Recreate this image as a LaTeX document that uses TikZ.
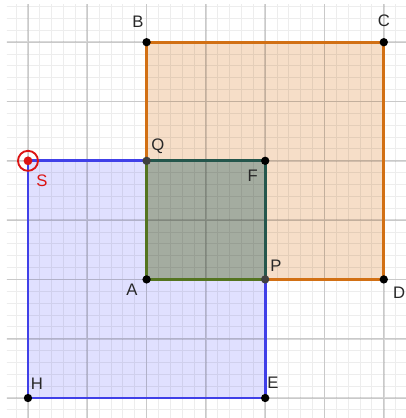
\documentclass[tikz,border=0pt]{standalone}
\usepackage{fontspec}
\setmainfont{Liberation Sans}
\definecolor{orfill}{RGB}{246,222,200}
\definecolor{orline}{RGB}{210,112,20}
\definecolor{blfill}{RGB}{224,224,255}
\definecolor{blline}{RGB}{64,64,232}
\definecolor{grfill}{RGB}{164,172,160}
\definecolor{teal}{RGB}{36,86,76}
\definecolor{olive}{RGB}{84,116,32}
\definecolor{lbl}{RGB}{40,40,40}
\definecolor{sred}{RGB}{220,20,20}
\begin{document}
\begin{tikzpicture}[
  pt/.style={circle,fill=black,inner sep=0pt,minimum size=4pt},
  ipt/.style={circle,fill=black!75,inner sep=0pt,minimum size=4pt},
  lab/.style={text=lbl,font=\fontsize{8}{9.5}\selectfont,inner sep=0pt},
  edge/.style={line width=1.3pt}
]
\useasboundingbox (-0.472,-0.337) rectangle (6.374,6.712);
\fill[white] (-0.472,-0.337) rectangle (6.374,6.712);
% coordinates
\coordinate (H) at (0,0);
\coordinate (E) at (4,0);
\coordinate (S) at (0,4);
\coordinate (F) at (4,4);
\coordinate (Q) at (2,4);
\coordinate (P) at (4,2);
\coordinate (A) at (2,2);
\coordinate (B) at (2,6);
\coordinate (C) at (6,6);
\coordinate (D) at (6,2);
% fills
\fill[orfill] (A) -- (B) -- (C) -- (D) -- cycle;
\fill[blfill] (H) -- (S) -- (F) -- (E) -- cycle;
\fill[grfill] (A) -- (Q) -- (F) -- (P) -- cycle;
% grid
\begin{scope}
\clip (-0.355,-0.337) rectangle (6.374,6.63);
\draw[black,opacity=0.07,line width=0.45pt,step=0.2] (-0.6,-0.6) grid (6.6,6.8);
\draw[black,opacity=0.15,line width=0.8pt,step=1] (-1,-1) grid (7,7);
\end{scope}
% edges
\draw[edge,orline] (Q) -- (B) -- (C) -- (D) -- (P);
\draw[edge,blline] (Q) -- (S) -- (H) -- (E) -- (P);
\draw[edge,teal] (Q) -- (F) -- (P);
\draw[edge,olive] (P) -- (A) -- (Q);
% points
\node[pt] (nB) at (B) {};
\node[pt] (nC) at (C) {};
\node[pt] (nD) at (D) {};
\node[pt] (nA) at (A) {};
\node[pt] (nF) at (F) {};
\node[pt] (nE) at (E) {};
\node[pt] (nH) at (H) {};
\node[ipt] (nQ) at (Q) {};
\node[ipt] (nP) at (P) {};
\draw[sred,line width=0.9pt] (S) circle (4.8pt);
\node[circle,fill=sred,inner sep=0pt,minimum size=4.2pt] (nS) at (S) {};
% labels
\node[lab] (lB) at (1.855,6.34) {B};
\node[lab] (lC) at (6.0,6.37) {C};
\node[lab] (lQ) at (2.19,4.25) {Q};
\node[lab] (lF) at (3.79,3.74) {F};
\node[lab,text=sred] (lS) at (0.236,3.66) {S};
\node[lab] (lA) at (1.754,1.82) {A};
\node[lab] (lP) at (4.18,2.23) {P};
\node[lab] (lD) at (6.26,1.77) {D};
\node[lab] (lH) at (0.15,0.236) {H};
\node[lab] (lE) at (4.13,0.25) {E};
\end{tikzpicture}
\end{document}
